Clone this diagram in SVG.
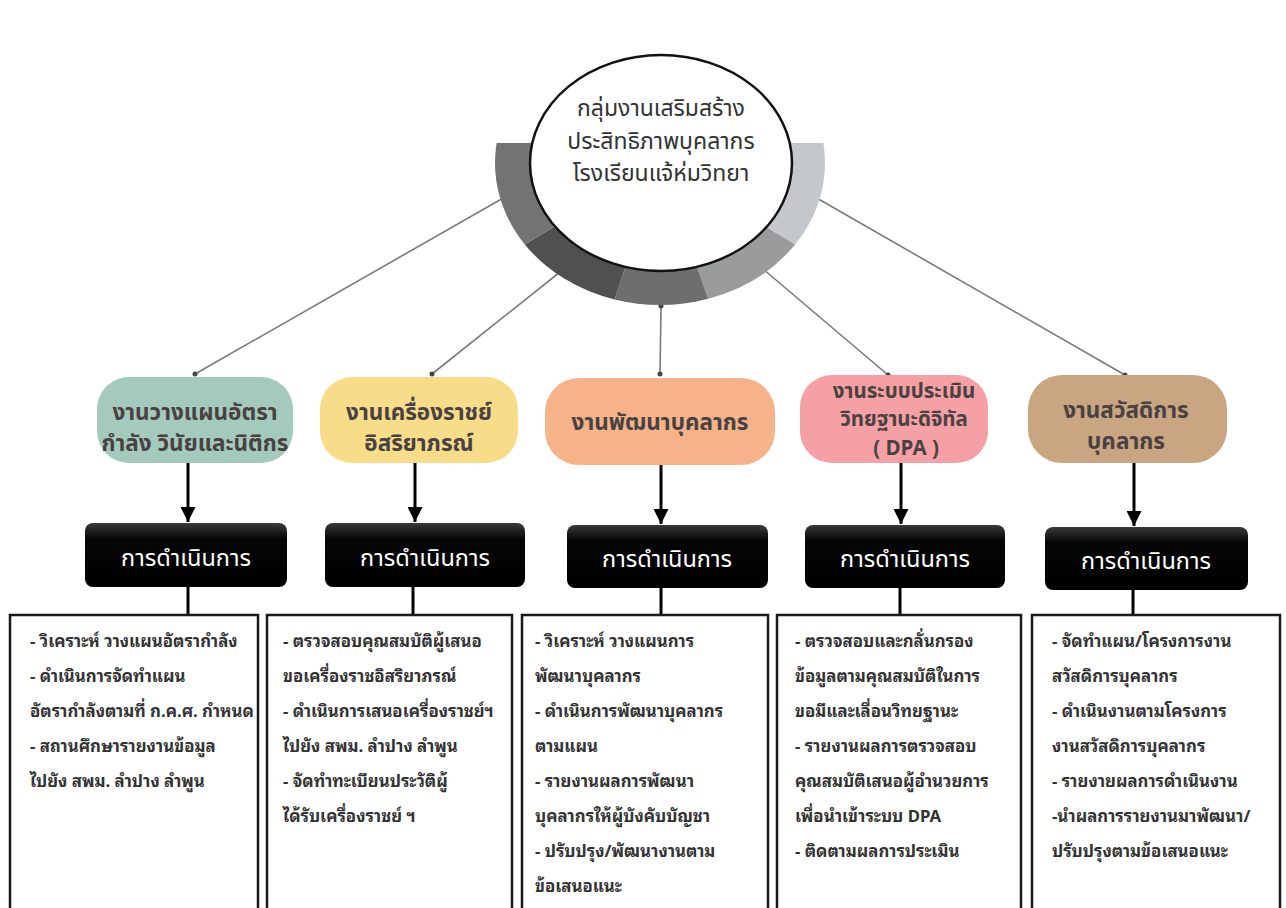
<svg xmlns="http://www.w3.org/2000/svg" width="1286" height="908" viewBox="0 0 1286 908">
  <defs>
    <style>
      .conn { stroke: #7a7a7a; stroke-width: 1.6; fill: none; }
      .dot { fill: #444; }
      .arrow { stroke: #000; stroke-width: 3; fill: none; }
      .link { stroke: #000; stroke-width: 3; fill: none; }
      .node-text { font-family: "Noto Sans Thai", "Noto Sans", "DejaVu Sans", sans-serif; font-size: 22.5px; font-weight: bold; fill: #4a4242; text-anchor: middle; }
      .node-small { font-size: 20.5px; }
      .center-text { font-family: "Noto Sans Thai", "Noto Sans", "DejaVu Sans", sans-serif; font-size: 23px; fill: #333; text-anchor: middle; }
      .op-text { font-family: "Noto Sans Thai", "Noto Sans", "DejaVu Sans", sans-serif; font-size: 23.5px; fill: #fff; text-anchor: middle; }
      .box { fill: #fff; stroke: #1a1a1a; stroke-width: 2.5; }
      .box-text { font-family: "Noto Sans Thai Looped", "Tahoma", "Noto Sans Thai", "DejaVu Sans", sans-serif; font-size: 16.8px; font-weight: bold; fill: #333; }
      .op { fill: url(#opGrad); }
    </style>
    <linearGradient id="opGrad" x1="0" y1="0" x2="0" y2="1">
      <stop offset="0" stop-color="#3a3a3a"/>
      <stop offset="0.25" stop-color="#050505"/>
      <stop offset="1" stop-color="#000"/>
    </linearGradient>
    <marker id="ah" viewBox="0 0 10 10" refX="10" refY="5" markerWidth="5" markerHeight="5" markerUnits="strokeWidth" orient="auto">
      <path d="M0,0 L10,5 L0,10 Z" fill="#000"/>
    </marker>
    <clipPath id="ringClip">
      <rect x="480" y="143" width="360" height="180"/>
    </clipPath>
  </defs>

  <rect x="0" y="0" width="1286" height="908" fill="#fff"/>

  <!-- connectors -->
  <g id="connectors">
    <line class="conn" x1="505" y1="197" x2="195" y2="374"/>
    <line class="conn" x1="560" y1="272" x2="432" y2="374"/>
    <line class="conn" x1="661" y1="306" x2="660" y2="374"/>
    <line class="conn" x1="763" y1="269" x2="888" y2="375"/>
    <line class="conn" x1="815" y1="197" x2="1125" y2="375"/>
    <circle class="dot" cx="505" cy="197" r="2.5"/>
    <circle class="dot" cx="560" cy="272" r="2.5"/>
    <circle class="dot" cx="661" cy="306" r="2.5"/>
    <circle class="dot" cx="763" cy="269" r="2.5"/>
    <circle class="dot" cx="815" cy="197" r="2.5"/>
    <circle class="dot" cx="195" cy="374" r="2.5"/>
    <circle class="dot" cx="432" cy="374" r="2.5"/>
    <circle class="dot" cx="660" cy="374" r="2.5"/>
    <circle class="dot" cx="888" cy="375" r="2.5"/>
    <circle class="dot" cx="1125" cy="375" r="2.5"/>

    <line class="arrow" x1="188" y1="463" x2="188" y2="522" marker-end="url(#ah)"/>
    <line class="arrow" x1="415" y1="463" x2="415" y2="522" marker-end="url(#ah)"/>
    <line class="arrow" x1="661" y1="465" x2="661" y2="524" marker-end="url(#ah)"/>
    <line class="arrow" x1="901" y1="463" x2="901" y2="524" marker-end="url(#ah)"/>
    <line class="arrow" x1="1134" y1="463" x2="1134" y2="526" marker-end="url(#ah)"/>

    <line class="link" x1="188" y1="587" x2="188" y2="615"/>
    <line class="link" x1="413" y1="587" x2="413" y2="615"/>
    <line class="link" x1="661" y1="588" x2="661" y2="615"/>
    <line class="link" x1="900" y1="588" x2="900" y2="615"/>
    <line class="link" x1="1133" y1="590" x2="1133" y2="615"/>
  </g>

  <!-- central node -->
  <g id="center">
    <g clip-path="url(#ringClip)">
      <path d="M660,163 L815.05,114.43 A165,142 0 0,1 795.16,244.45 Z" fill="#c4c8cb"/>
      <path d="M660,163 L795.16,244.45 A165,142 0 0,1 708.24,298.79 Z" fill="#9a9b9c"/>
      <path d="M660,163 L708.24,298.79 A165,142 0 0,1 614.52,299.5 Z" fill="#6e6e6e"/>
      <path d="M660,163 L614.52,299.5 A165,142 0 0,1 524.84,244.45 Z" fill="#505050"/>
      <path d="M660,163 L524.84,244.45 A165,142 0 0,1 504.95,114.43 Z" fill="#737373"/>
    </g>
    <ellipse cx="661" cy="163" rx="131" ry="108" fill="#fff" stroke="#111" stroke-width="2.5"/>
    <text class="center-text" x="661" y="116">กลุ่มงานเสริมสร้าง</text>
    <text class="center-text" x="661" y="149">ประสิทธิภาพบุคลากร</text>
    <text class="center-text" x="661" y="181">โรงเรียนแจ้ห่มวิทยา</text>
  </g>

  <!-- level 2 nodes -->
  <g id="node1">
    <rect x="97" y="377" width="196" height="86" rx="32" fill="#a3cabd"/>
    <text class="node-text" x="195" y="420">งานวางแผนอัตรา</text>
    <text class="node-text" x="195" y="451">กำลัง วินัยและนิติกร</text>
  </g>
  <g id="node2">
    <rect x="320" y="377" width="198" height="86" rx="32" fill="#f7dc8a"/>
    <text class="node-text" x="419" y="420">งานเครื่องราชย์</text>
    <text class="node-text" x="419" y="451">อิสริยาภรณ์</text>
  </g>
  <g id="node3">
    <rect x="545" y="378" width="230" height="87" rx="34" fill="#f6b389"/>
    <text class="node-text" x="660" y="430">งานพัฒนาบุคลากร</text>
  </g>
  <g id="node4">
    <rect x="800" y="375" width="188" height="88" rx="32" fill="#f4a0a4"/>
    <text class="node-text node-small" x="904" y="398">งานระบบประเมิน</text>
    <text class="node-text node-small" x="904" y="426">วิทยฐานะดิจิทัล</text>
    <text class="node-text node-small" x="906" y="455">( DPA )</text>
  </g>
  <g id="node5">
    <rect x="1028" y="375" width="199" height="88" rx="34" fill="#c9a582"/>
    <text class="node-text" x="1126" y="418">งานสวัสดิการ</text>
    <text class="node-text" x="1126" y="449">บุคลากร</text>
  </g>

  <!-- operation boxes -->
  <g id="op1">
    <rect class="op" x="85" y="523" width="202" height="64" rx="8"/>
    <text class="op-text" x="186" y="566">การดำเนินการ</text>
  </g>
  <g id="op2">
    <rect class="op" x="325" y="523" width="200" height="64" rx="8"/>
    <text class="op-text" x="425" y="566">การดำเนินการ</text>
  </g>
  <g id="op3">
    <rect class="op" x="567" y="525" width="201" height="63" rx="8"/>
    <text class="op-text" x="667" y="567">การดำเนินการ</text>
  </g>
  <g id="op4">
    <rect class="op" x="805" y="525" width="200" height="63" rx="8"/>
    <text class="op-text" x="905" y="567">การดำเนินการ</text>
  </g>
  <g id="op5">
    <rect class="op" x="1045" y="527" width="203" height="63" rx="8"/>
    <text class="op-text" x="1146" y="569">การดำเนินการ</text>
  </g>

  <!-- detail boxes -->
  <g id="detail1">
    <rect class="box" x="10" y="615" width="248" height="310"/>
    <text class="box-text" x="30" y="647">- วิเคราะห์ วางแผนอัตรากำลัง</text>
    <text class="box-text" x="30" y="682">- ดำเนินการจัดทำแผน</text>
    <text class="box-text" x="30" y="717">อัตรากำลังตามที่ ก.ค.ศ. กำหนด</text>
    <text class="box-text" x="30" y="752">- สถานศึกษารายงานข้อมูล</text>
    <text class="box-text" x="30" y="787">ไปยัง สพม. ลำปาง ลำพูน</text>
  </g>
  <g id="detail2">
    <rect class="box" x="267" y="615" width="245" height="310"/>
    <text class="box-text" x="283" y="647">- ตรวจสอบคุณสมบัติผู้เสนอ</text>
    <text class="box-text" x="283" y="682">ขอเครื่องราชอิสริยาภรณ์</text>
    <text class="box-text" x="283" y="717">- ดำเนินการเสนอเครื่องราชย์ฯ</text>
    <text class="box-text" x="283" y="752">ไปยัง สพม. ลำปาง ลำพูน</text>
    <text class="box-text" x="283" y="787">- จัดทำทะเบียนประวัติผู้</text>
    <text class="box-text" x="283" y="822">ได้รับเครื่องราชย์ ฯ</text>
  </g>
  <g id="detail3">
    <rect class="box" x="522" y="615" width="246" height="310"/>
    <text class="box-text" x="535" y="647">- วิเคราะห์ วางแผนการ</text>
    <text class="box-text" x="535" y="682">พัฒนาบุคลากร</text>
    <text class="box-text" x="535" y="717">- ดำเนินการพัฒนาบุคลากร</text>
    <text class="box-text" x="535" y="752">ตามแผน</text>
    <text class="box-text" x="535" y="787">- รายงานผลการพัฒนา</text>
    <text class="box-text" x="535" y="822">บุคลากรให้ผู้บังคับบัญชา</text>
    <text class="box-text" x="535" y="857">- ปรับปรุง/พัฒนางานตาม</text>
    <text class="box-text" x="535" y="892">ข้อเสนอแนะ</text>
  </g>
  <g id="detail4">
    <rect class="box" x="777" y="615" width="244" height="310"/>
    <text class="box-text" x="795" y="647">- ตรวจสอบและกลั่นกรอง</text>
    <text class="box-text" x="795" y="682">ข้อมูลตามคุณสมบัติในการ</text>
    <text class="box-text" x="795" y="717">ขอมีและเลื่อนวิทยฐานะ</text>
    <text class="box-text" x="795" y="752">- รายงานผลการตรวจสอบ</text>
    <text class="box-text" x="795" y="787">คุณสมบัติเสนอผู้อำนวยการ</text>
    <text class="box-text" x="795" y="822">เพื่อนำเข้าระบบ DPA</text>
    <text class="box-text" x="795" y="857">- ติดตามผลการประเมิน</text>
  </g>
  <g id="detail5">
    <rect class="box" x="1032" y="615" width="248" height="310"/>
    <text class="box-text" x="1052" y="647">- จัดทำแผน/โครงการงาน</text>
    <text class="box-text" x="1052" y="682">สวัสดิการบุคลากร</text>
    <text class="box-text" x="1052" y="717">- ดำเนินงานตามโครงการ</text>
    <text class="box-text" x="1052" y="752">งานสวัสดิการบุคลากร</text>
    <text class="box-text" x="1052" y="787">- รายงายผลการดำเนินงาน</text>
    <text class="box-text" x="1052" y="822">-นำผลการรายงานมาพัฒนา/</text>
    <text class="box-text" x="1052" y="857">ปรับปรุงตามข้อเสนอแนะ</text>
  </g>
</svg>
